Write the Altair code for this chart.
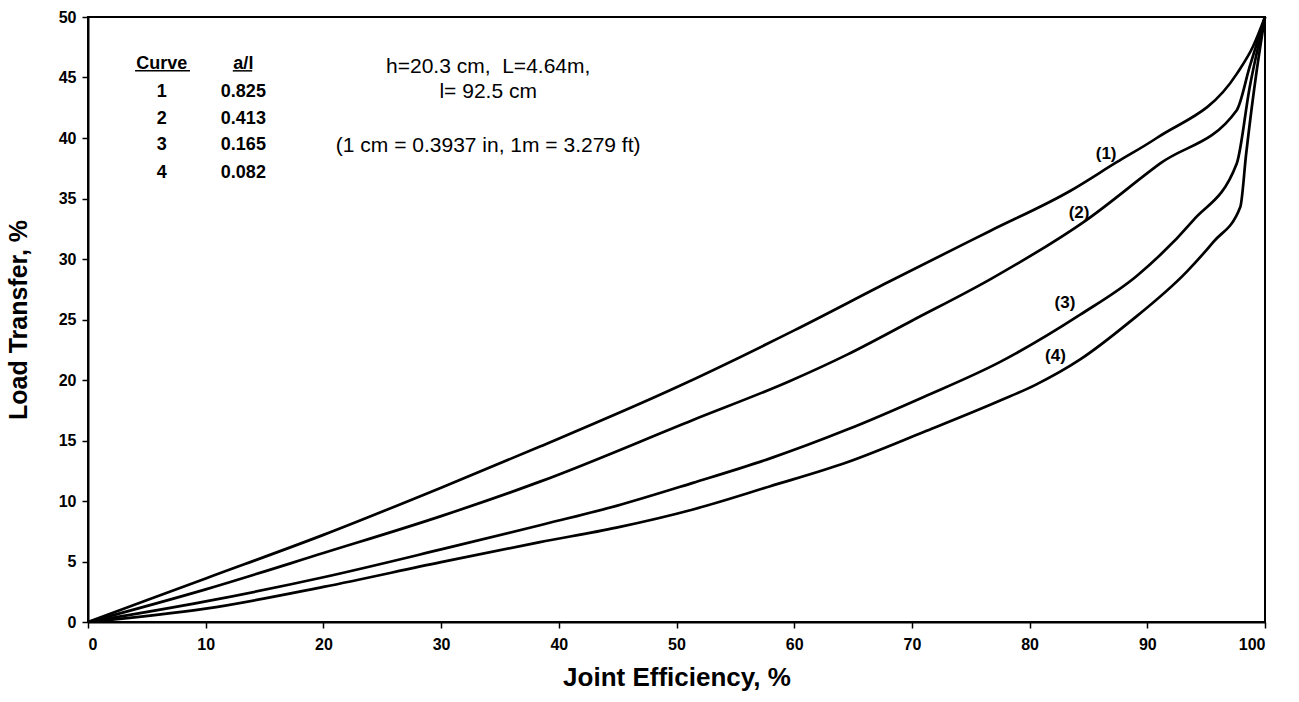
import altair as alt
import pandas as pd

# ---- curve data (Joint Efficiency %, Load Transfer %) ----
c1_x = [0, 10, 20, 30, 38.4, 50, 60, 68, 76.6, 83.4, 87.4, 90.8, 97.6, 99, 100]
c1_y = [0, 3.6, 7.2, 11.1, 14.5, 19.4, 24.1, 28.1, 32.3, 35.6, 38.0, 40.0, 45.3, 47.6, 50]

c2_x = [0, 10, 20, 30, 38.4, 51.4, 59.6, 64.5, 70, 76.8, 84.8, 91.1, 97.6, 98.7, 100]
c2_y = [0, 2.7, 5.7, 8.75, 11.6, 16.7, 19.9, 22.1, 24.9, 28.4, 33.2, 37.9, 42.3, 45.9, 50]

c3_x = [0, 10, 20, 30, 38.4, 44.9, 51.4, 57.9, 64.5, 71, 77.5, 84.3, 89.1, 93.9, 97.6, 98.7, 100]
c3_y = [0, 1.7, 3.7, 6.0, 8.0, 9.6, 11.5, 13.5, 15.9, 18.6, 21.5, 25.4, 28.6, 33.2, 37.9, 44.2, 50]

c4_x = [0, 10, 20, 30, 38.4, 44.9, 51.4, 57.9, 64.5, 71, 77.5, 80.5, 84.3, 88.5, 93.4, 95.6, 97.9, 98.4, 99.3, 100]
c4_y = [0, 1.1, 2.9, 4.95, 6.6, 7.8, 9.3, 11.2, 13.2, 15.7, 18.3, 19.6, 21.7, 24.8, 29.0, 31.4, 34.3, 38.7, 45.6, 50]

curve_names = ["1", "2", "3", "4"]

# ---- curve labels ----
lab_text = ["(1)", "(2)", "(3)", "(4)"]
lab_x = [86.5, 84.2, 83.0, 82.2]
lab_y = [38.7, 33.8, 26.4, 22.0]

# ---- header annotation ----
head_text = ["h=20.3 cm,\u00a0 L=4.64m,", "l= 92.5 cm", "(1 cm = 0.3937 in, 1m = 3.279 ft)"]
head_x = [34.0, 34.0, 34.0]
head_y = [45.9, 43.8, 39.3]

# ---- legend table ----
tab_curve = ["Curve", "1", "2", "3", "4"]
tab_al = ["a/l", "0.825", "0.413", "0.165", "0.082"]
tab_y = [46.1, 43.8, 41.6, 39.4, 37.1]
tab_curve_x = 6.26
tab_al_x = 13.2
ul_x = [4.0, 12.3]
ul_x2 = [8.67, 13.95]
ul_y = [45.55, 45.55]

rows = []
for name, xs, ys in zip(curve_names, [c1_x, c2_x, c3_x, c4_x], [c1_y, c2_y, c3_y, c4_y]):
    for a, b in zip(xs, ys):
        rows.append({"curve": name, "x": a, "y": b})
df = pd.DataFrame(rows)

df_lab = pd.DataFrame({"t": lab_text, "x": lab_x, "y": lab_y})
df_head = pd.DataFrame({"t": head_text, "x": head_x, "y": head_y})
df_tab = pd.DataFrame({
    "t": tab_curve + tab_al,
    "x": [tab_curve_x] * len(tab_curve) + [tab_al_x] * len(tab_al),
    "y": tab_y + tab_y,
})
df_ul = pd.DataFrame({"x": ul_x, "x2": ul_x2, "y": ul_y})

FONT = "Liberation Sans"
xscale = alt.Scale(domain=[0, 100], nice=False)
yscale = alt.Scale(domain=[0, 50], nice=False)
xaxis = alt.Axis(values=list(range(0, 101, 10)), title="Joint Efficiency, %", grid=False,
                 labelFontSize=16, labelFontWeight="bold", labelPadding=8,
                 titleFontSize=26, titleFontWeight="bold", titlePadding=12,
                 tickSize=6, tickWidth=1.5, tickColor="black", domainColor="black", domainWidth=2,
                 labelColor="black", titleColor="black", labelFont=FONT, titleFont=FONT)
yaxis = alt.Axis(values=list(range(0, 51, 5)), title="Load Transfer, %", grid=False,
                 labelFontSize=16, labelFontWeight="bold", labelPadding=6,
                 titleFontSize=25, titleFontWeight="bold", titlePadding=27,
                 tickSize=6, tickWidth=1.5, tickColor="black", domainColor="black", domainWidth=2,
                 labelColor="black", titleColor="black", labelFont=FONT, titleFont=FONT)
X = alt.X("x:Q", scale=xscale, axis=xaxis)
Y = alt.Y("y:Q", scale=yscale, axis=yaxis)

lines = alt.Chart(df).mark_line(color="black", strokeWidth=2.7, interpolate="monotone").encode(
    x=X, y=Y, detail="curve:N", order="x:Q")

labels = alt.Chart(df_lab).mark_text(font=FONT, fontSize=17, fontWeight="bold", color="black").encode(
    x=X, y=Y, text="t:N")

header = alt.Chart(df_head).mark_text(font=FONT, fontSize=21, color="black").encode(
    x=X, y=Y, text="t:N")

table = alt.Chart(df_tab).mark_text(font=FONT, fontSize=18, fontWeight="bold", color="black").encode(
    x=X, y=Y, text="t:N")

underline = alt.Chart(df_ul).mark_rule(color="black", strokeWidth=1.5).encode(
    x=X, x2="x2:Q", y=Y)

chart = alt.layer(lines, labels, header, table, underline).properties(
    width=1177, height=605,
    autosize=alt.AutoSizeParams(type="none"),
    padding={"left": 88, "top": 17, "right": 34, "bottom": 80},
    background="white",
).configure_view(stroke="black", strokeWidth=2)

chart.save("out.html", embed_options={"renderer": "svg", "actions": False})
